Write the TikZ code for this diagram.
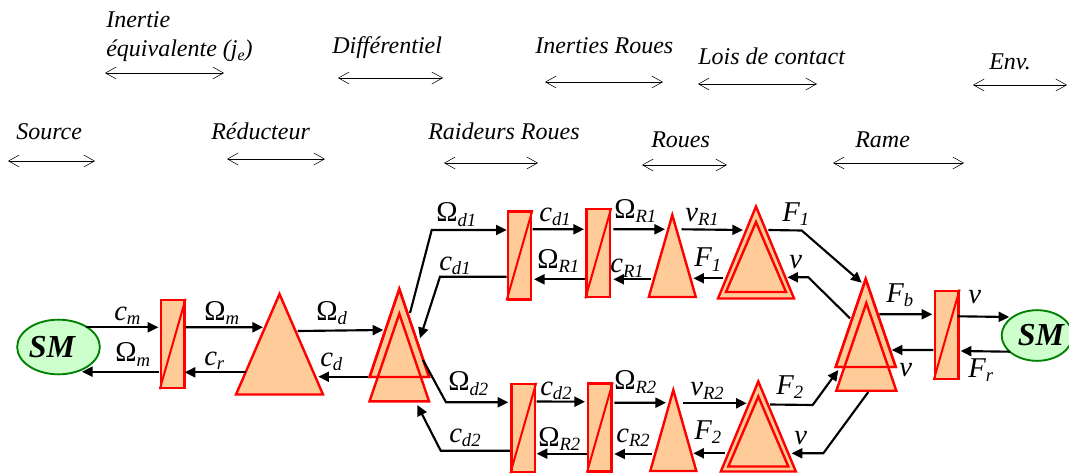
\documentclass[tikz,border=0pt]{standalone}
\usepackage{fontspec}
\usepackage{xcolor}
\usetikzlibrary{arrows.meta,shapes.geometric}
\setmainfont{Liberation Serif}
\definecolor{blockfill}{HTML}{FFCC99}
\definecolor{smfill}{HTML}{CCFFCC}
\definecolor{smline}{HTML}{008000}
\newcommand{\subs}[1]{\raisebox{-3.5pt}{\fontsize{14}{15}\selectfont #1}}
\tikzset{
  conv/.style={draw=red,fill=blockfill,line width=1.8pt,minimum width=17.6pt,minimum height=66pt,inner sep=0pt},
  diag/.style={draw=red,line width=1.5pt},
  tri/.style n args={2}{isosceles triangle,isosceles triangle stretches,shape border rotate=90,anchor=apex,draw=red,line width=1.8pt,inner sep=0pt,outer sep=0pt,minimum width=#1*0.75pt,minimum height=#2*0.75pt},
  sm/.style={ellipse,draw=smline,fill=smfill,line width=1.4pt,inner sep=0pt},
  smtext/.style={font=\fontsize{24}{26}\selectfont\bfseries\itshape,inner sep=0pt},
  sym/.style={font=\fontsize{21.5}{24}\selectfont\itshape,inner sep=0pt,anchor=base west},
  head/.style={font=\fontsize{18}{20}\selectfont\itshape,inner sep=0pt,anchor=base west},
  sig/.style={draw=black,line width=1.6pt,-{Triangle[length=8pt,width=7.5pt]}},
  span/.style={draw=black,line width=0.4pt,{Straight Barb[length=8pt,width=9pt,line width=0.4pt]}-{Straight Barb[length=8pt,width=9pt,line width=0.4pt]}}
}
\begin{document}
\begin{tikzpicture}[x=0.75pt,y=-0.75pt]
\useasboundingbox (0,0) rectangle (1069,474);
\clip (0,0) rectangle (1069,474);
% headers
\node[head] (hInertie) at (106,28) {Inertie};
\node[head] (hEquiv) at (106,57) {équivalente (j\raisebox{-2.5pt}{\fontsize{12}{13}\selectfont e})};
\node[head] (hDiff) at (332,54) {Différentiel};
\node[head] (hRoues) at (535,54) {Inerties Roues};
\node[head] (hLois) at (698,65) {Lois de contact};
\node[head] (hEnv) at (989,70) {Env.};
\node[head] (hSource) at (16,140) {Source};
\node[head] (hReduc) at (211,139) {Réducteur};
\node[head] (hRaid) at (428,139) {Raideurs Roues};
\node[head] (hRoue) at (651,147) {Roues};
\node[head] (hRame) at (855,147) {Rame};
\draw[span] ([shift={(-1,16)}]hEquiv.base west) -- ++(119,0);
\draw[span] ([shift={(6,24)}]hDiff.base west) -- ++(105,0);
\draw[span] ([shift={(10,28)}]hRoues.base west) -- ++(118,0);
\draw[span] ([shift={(0,19)}]hLois.base west) -- ++(119,0);
\draw[span] ([shift={(-16,15)}]hEnv.base west) -- ++(94,0);
\draw[span] ([shift={(-8,21)}]hSource.base west) -- ++(87,0);
\draw[span] ([shift={(16,20)}]hReduc.base west) -- ++(98,0);
\draw[span] ([shift={(16,24)}]hRaid.base west) -- ++(94,0);
\draw[span] ([shift={(-9,18)}]hRoue.base west) -- ++(85,0);
\draw[span] ([shift={(-22,16)}]hRame.base west) -- ++(131,0);
% blocks
\node[sm,minimum width=62pt,minimum height=41pt] (smL) at (58.5,347) {};
\node[smtext] (smLtext) at (52,347) {SM};
\node[conv] (cA) at (172.7,344) {};
\node[tri={87}{100.5},fill=blockfill] (tA) at (279.5,294) {};
\node[tri={59.5}{88},fill=blockfill] (tDa) at (399.3,289) {};
\node[tri={59.5}{87.6},fill=blockfill] (tDb) at (399.3,313.7) {};
\node[tri={59.5}{88}] (tDc) at (399.3,289) {};
\node[conv] (cUa) at (519.5,255.3) {};
\node[conv] (cUb) at (598.3,253.2) {};
\node[tri={47}{82},fill=blockfill] (tU) at (672.3,215) {};
\node[tri={76}{92},fill=blockfill] (dUa) at (756,206.5) {};
\node[tri={60}{70}] (dUb) at (756,222) {};
\node[conv] (cLa) at (523.3,428) {};
\node[conv] (cLb) at (599.8,427.5) {};
\node[tri={46}{81},fill=blockfill] (tL) at (673.3,390) {};
\node[tri={75}{90},fill=blockfill] (dLa) at (758.3,381.5) {};
\node[tri={60}{70}] (dLb) at (758.3,396.5) {};
\node[tri={60}{88},fill=blockfill] (tRa) at (865.7,279) {};
\node[tri={60}{87.7},fill=blockfill] (tRb) at (866.3,303) {};
\node[tri={60}{88}] (tRc) at (865.7,279) {};
\node[conv] (cR) at (946.7,334.7) {};
\node[sm,minimum width=53pt,minimum height=38pt] (smR) at (1037,335.5) {};
\node[smtext] (smRtext) at (1041,335.5) {SM};
\draw[diag] (cA.north east) -- (cA.south west);
\draw[diag] (cUa.north east) -- (cUa.south west);
\draw[diag] (cUb.north east) -- (cUb.south west);
\draw[diag] (cLa.north east) -- (cLa.south west);
\draw[diag] (cLb.north east) -- (cLb.south west);
\draw[diag] (cR.north east) -- (cR.south west);
% bends
\coordinate (kOmU) at (431.7,230);
\coordinate (kCdU) at (440,276.7);
\coordinate (kOmL) at (446,402.3);
\coordinate (kCdL) at (440.7,450.7);
\coordinate (kFU) at (801.7,230.5);
\coordinate (kVU) at (808.3,277.3);
\coordinate (kFL) at (812.7,405);
\coordinate (kVL) at (823.3,453.3);
% left part
\draw[sig] ([shift={(27.5,-19.7)}]smL.center) -- ([shift={(-14.4,-16.7)}]cA.center);
\draw[sig] ([shift={(-13.4,27.7)}]cA.center) -- ([shift={(23.5,24.7)}]smL.center);
\draw[sig] ([shift={(13,-16.7)}]cA.center) -- ([shift={(-16.5,33.3)}]tA.apex);
\draw[sig] ([shift={(-33.8,78.3)}]tA.apex) -- ([shift={(12,28.3)}]cA.center);
\draw[sig] ([shift={(18.2,37)}]tA.apex) -- ([shift={(-16,41)}]tDa.apex);
\draw[sig] ([shift={(-31.6,87.7)}]tDa.apex) -- ([shift={(38.8,82.7)}]tA.apex);
% upper branch
\draw[sig] ([shift={(10.7,24)}]tDa.apex) -- (kOmU) -- ([shift={(-12.8,-25.3)}]cUa.center);
\draw[sig] ([shift={(-12.8,21.4)}]cUa.center) -- (kCdU) -- ([shift={(20.7,49.3)}]tDa.apex);
\draw[sig] ([shift={(13.2,-26)}]cUa.center) -- ([shift={(-14.3,-23.9)}]cUb.center);
\draw[sig] ([shift={(-13.3,26.1)}]cUb.center) -- ([shift={(14.5,24)}]cUa.center);
\draw[sig] ([shift={(15,-23.9)}]cUb.center) -- ([shift={(-7.3,14.3)}]tU.apex);
\draw[sig] ([shift={(-21.6,64.3)}]tU.apex) -- ([shift={(15,26.1)}]cUb.center);
\draw[sig] ([shift={(9.4,14.3)}]tU.apex) -- ([shift={(-13,23.5)}]dUa.apex);
\draw[sig] ([shift={(-32.7,71.8)}]dUa.apex) -- ([shift={(21,63.3)}]tU.apex);
\draw[sig] ([shift={(12.3,23.5)}]dUa.apex) -- (kFU) -- ([shift={(-4,3.7)}]tRa.apex);
\draw[sig] ([shift={(-15.7,39.3)}]tRa.apex) -- (kVU) -- ([shift={(31.3,70.8)}]dUa.apex);
% lower branch
\draw[sig] ([shift={(23.7,71)}]tDa.apex) -- (kOmL) -- ([shift={(-15,-25.7)}]cLa.center);
\draw[sig] ([shift={(-13.3,22.7)}]cLa.center) -- (kCdL) -- ([shift={(18,91.3)}]tDb.apex);
\draw[sig] ([shift={(13.4,-26.5)}]cLa.center) -- ([shift={(-14.8,-25.8)}]cLb.center);
\draw[sig] ([shift={(-13.1,26.2)}]cLb.center) -- ([shift={(13.4,25.7)}]cLa.center);
\draw[sig] ([shift={(14.5,-24.8)}]cLb.center) -- ([shift={(-7.3,12.7)}]tL.apex);
\draw[sig] ([shift={(-21.6,64)}]tL.apex) -- ([shift={(14.5,26.5)}]cLb.center);
\draw[sig] ([shift={(9.4,13.3)}]tL.apex) -- ([shift={(-11.6,21.8)}]dLa.apex);
\draw[sig] ([shift={(-33.3,71.8)}]dLa.apex) -- ([shift={(20,63.3)}]tL.apex);
\draw[sig] ([shift={(11.7,23)}]dLa.apex) -- (kFL) -- ([shift={(-27.4,91)}]tRa.apex);
\draw[sig] ([shift={(2,89)}]tRb.apex) -- (kVL) -- ([shift={(33.4,71.8)}]dLa.apex);
% right part
\draw[sig] ([shift={(13.6,35.3)}]tRa.apex) -- ([shift={(-14.4,-20.4)}]cR.center);
\draw[sig] ([shift={(11,-18.4)}]cR.center) -- ([shift={(-27.7,-18.5)}]smR.center);
\draw[sig] ([shift={(-27,16.2)}]smR.center) -- ([shift={(14,16.3)}]cR.center);
\draw[sig] ([shift={(-13.4,15.3)}]cR.center) -- ([shift={(26,71)}]tRa.apex);
% labels
\node[sym] (lCm) at (114,320) {c\subs{m}};
\node[sym] (lOmA) at (115,361.7) {\textup{Ω}\subs{m}};
\node[sym] (lOmB) at (204,320) {\textup{Ω}\subs{m}};
\node[sym] (lCr) at (204,365) {c\subs{r}};
\node[sym] (lOd) at (316,320) {\textup{Ω}\subs{d}};
\node[sym] (lCd) at (320,366) {c\subs{d}};
\node[sym] (lOdU) at (436,221.7) {\textup{Ω}\subs{d1}};
\node[sym] (lCdUa) at (539,221) {c\subs{d1}};
\node[sym] (lOrU) at (614,218.3) {\textup{Ω}\subs{R1}};
\node[sym] (lVrU) at (685,221) {v\subs{R1}};
\node[sym] (lFU) at (782,221) {F\subs{1}};
\node[sym] (lCdUb) at (439,270) {c\subs{d1}};
\node[sym] (lOrUb) at (537,268.3) {\textup{Ω}\subs{R1}};
\node[sym] (lCrU) at (610,272.7) {c\subs{R1}};
\node[sym] (lFUb) at (694,266.7) {F\subs{1}};
\node[sym] (lVU) at (789,268) {v};
\node[sym] (lOdL) at (448,390.7) {\textup{Ω}\subs{d2}};
\node[sym] (lCdLa) at (540,395) {c\subs{d2}};
\node[sym] (lOrL) at (614,389.3) {\textup{Ω}\subs{R2}};
\node[sym] (lVrL) at (690,395) {v\subs{R2}};
\node[sym] (lFL) at (776,394) {F\subs{2}};
\node[sym] (lCdLb) at (449,442) {c\subs{d2}};
\node[sym] (lOrLb) at (538,446) {\textup{Ω}\subs{R2}};
\node[sym] (lCrL) at (616,442) {c\subs{R2}};
\node[sym] (lFLb) at (694,439.3) {F\subs{2}};
\node[sym] (lVL) at (794,444) {v};
\node[sym] (lFb) at (886,302) {F\subs{b}};
\node[sym] (lVa) at (968,303.3) {v};
\node[sym] (lVb) at (899,376.7) {v};
\node[sym] (lFr) at (968,377.3) {F\subs{r}};
\end{tikzpicture}
\end{document}
